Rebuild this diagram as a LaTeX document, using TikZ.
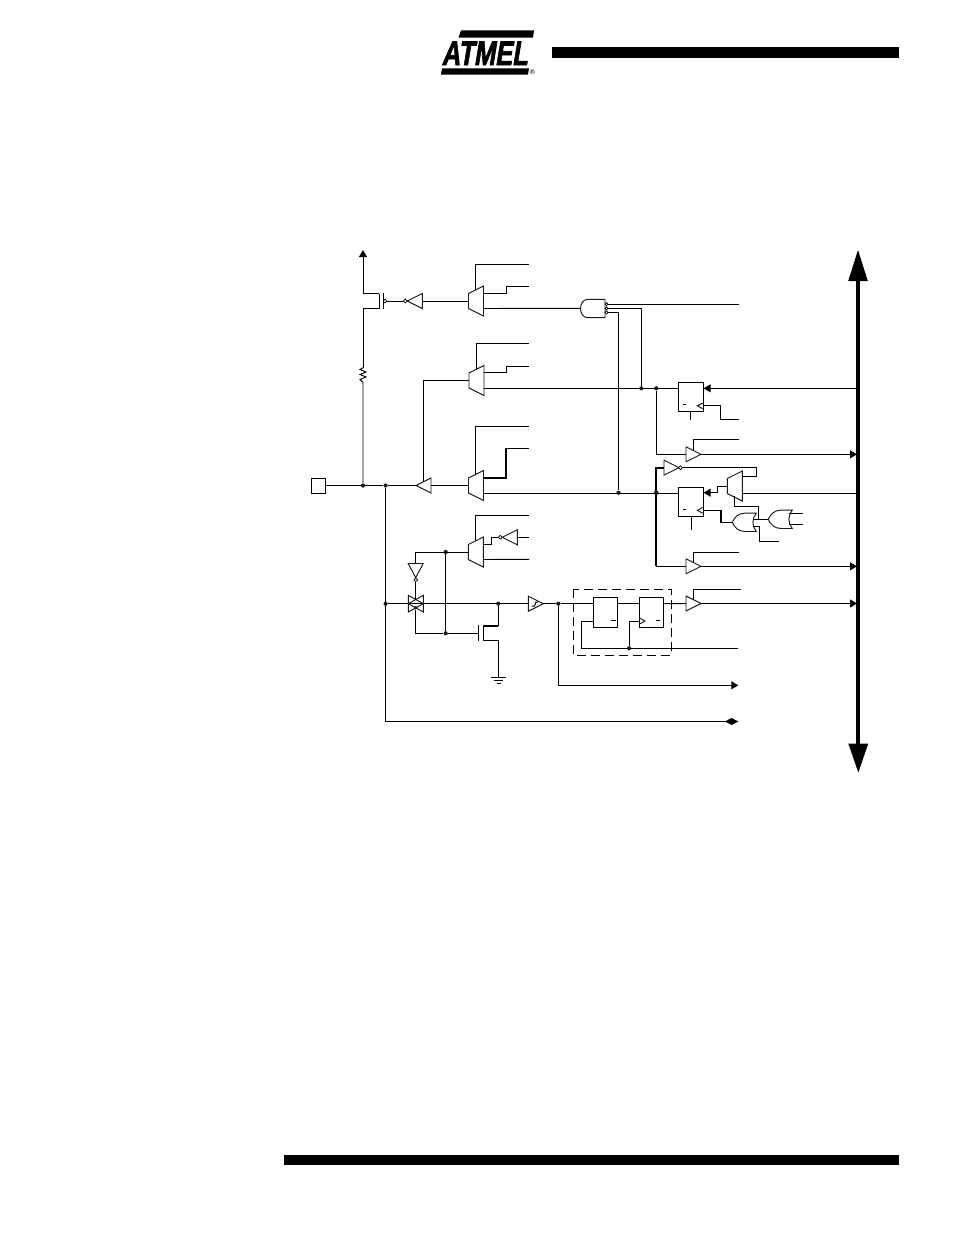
\documentclass[tikz,border=0pt]{standalone}
\usepackage{fontspec}
\setmainfont{Liberation Sans}
\newfontfamily\logofont[FakeBold=2.2,FakeSlant=0.22]{Liberation Sans Bold}
\usetikzlibrary{arrows.meta,calc}
\tikzset{
  wire/.style={line width=0.95pt,line join=miter},
  thickwire/.style={line width=1.6pt},
  gate/.style={line width=0.95pt,draw=black!90,fill=white,line join=miter},
  dot/.style={circle,fill=black!90,inner sep=0pt,minimum size=4.2pt},
  bub/.style={circle,draw=black,fill=white,line width=0.7pt,inner sep=0pt,minimum size=3.8pt},
  box/.style={draw=black,fill=white,line width=0.95pt,inner sep=0pt,anchor=north west},
  arr/.style={-{Triangle[length=7pt,width=8pt]},line width=0.95pt},
  bar/.style={fill=black,draw=none}
}
% mux: name, left x, mid y, right side wider
\newcommand{\muxshape}[3]{%
  \draw[gate] (#2,#3-7.5) -- (#2+15,#3-15) -- (#2+15,#3+15) -- (#2,#3+7.5) -- cycle;
  \coordinate (#1-l) at (#2,#3);
  \coordinate (#1-a) at (#2+7,#3-11);
  \coordinate (#1-b) at (#2+15,#3-7.7);
  \coordinate (#1-c) at (#2+15,#3+7.5);
}
% triangle pointing right: name, base x, y
\newcommand{\trir}[3]{%
  \draw[gate] (#2,#3-7.5) -- (#2+15,#3) -- (#2,#3+7.5) -- cycle;
  \coordinate (#1-in) at (#2,#3);
  \coordinate (#1-out) at (#2+15,#3);
  \coordinate (#1-en) at (#2+7.3,#3-3.7);
}
% triangle pointing left: name, tip x, y
\newcommand{\tril}[3]{%
  \draw[gate] (#2,#3) -- (#2+15,#3-7.5) -- (#2+15,#3+7.5) -- cycle;
  \coordinate (#1-out) at (#2,#3);
  \coordinate (#1-in) at (#2+15,#3);
  \coordinate (#1-en) at (#2+7.5,#3-3.7);
}
% OR gate pointing left: name, tip x, y
\newcommand{\orl}[3]{%
  \draw[gate] (#2+24,#3-9.2) -- (#2+13,#3-9.2) .. controls (#2+6,#3-9.2) and (#2+2,#3-5) .. (#2,#3)
     .. controls (#2+2,#3+5) and (#2+6,#3+9.2) .. (#2+13,#3+9.2) -- (#2+24,#3+9.2)
     .. controls (#2+19.5,#3+4) and (#2+19.5,#3-4) .. cycle;
  \coordinate (#1-tip) at (#2,#3);
}
\begin{document}
\begin{tikzpicture}[x=1pt,y=-1pt,font=\small]
\useasboundingbox (0,0) rectangle (954,1235);
\fill[white] (0,0) rectangle (954,1235);

% page furniture
\fill[bar] (552,47) rectangle (899,58);
\fill[bar] (284,1155) rectangle (899,1165);

% logo
\fill[bar] (461,30.3) -- (534,30.3) -- (533,37.7) -- (458.5,37.7) -- cycle;
\fill[bar] (442,68.3) -- (529,68.3) -- (528,74.5) -- (441,74.5) -- cycle;
\node[inner sep=0pt,anchor=base west,xscale=0.75,font=\fontsize{34}{34}\selectfont\logofont] (logo) at (441.5,65) {ATMEL};
\node[inner sep=0pt,font=\fontsize{7}{7}\selectfont] (reg) at (532.5,72) {®};

% ---- pins and fixed points
\node[box,minimum width=14.6pt,minimum height=15pt] (pad) at (310.7,478.2) {};
\coordinate (vcc) at (363,250);
\node[dot] (j1) at (363,485.5) {};
\node[dot] (j2) at (385.6,485.5) {};
\node[dot] (j3) at (385.6,603.7) {};
\node[dot] (j4) at (445.7,552) {};
\node[dot] (j5) at (445.7,633.3) {};
\node[dot] (j6) at (498.3,603.7) {};
\node[dot] (j7) at (558.3,603.7) {};
\node[dot] (j8) at (641.3,388.3) {};
\node[dot] (j9) at (656.3,388.3) {};
\node[dot] (j10) at (618.5,492.7) {};
\node[dot] (j11) at (656.3,492.7) {};
\node[dot] (j12) at (629,648.3) {};

% bus
\coordinate (bust) at (858,250);
\coordinate (busb) at (858,772.5);
\fill[bar] (856.2,270) rectangle (860,755);
\fill[bar] (858,250) -- (867.8,281) -- (848.2,281) -- cycle;
\fill[bar] (858.3,772.5) -- (848.3,743.5) -- (868.3,743.5) -- cycle;
\coordinate (busx) at (857,0);

% ---- output enable section
\coordinate (pm-s) at (379,293.5);
\coordinate (pm-d) at (379,308.5);
\draw[wire] (pm-s) -- (pm-d);
\draw[arr] (pm-s) -- (363,293.5) -- (vcc);
\draw[wire] (pm-d) -- (363,308.5) -- (363,367.7);
\draw[wire] (383,293) -- (383,308.5);
\draw[wire] (363,367.7) -- (360,369.5) -- (366,372) -- (360,374.5) -- (366,377) -- (360,379.5) -- (363,382.3) -- (j1);
\draw[wire] (pad.east |- j1) -- (j1) -- (j2) -- (416,485.5);

\tril{i1}{407.3}{301}
\node[bub] (b1) at (405.3,301) {};
\node[bub] (b2) at (385,301) {};
\draw[wire] (b2) -- (b1);
\muxshape{m1}{468.5}{301}
\draw[wire] (i1-in) -- (m1-l);
\draw[wire] (m1-a) |- (529,264.3);
\draw[wire] (m1-b) -- (506,293.3) |- (529,286.7);
\draw[wire] (m1-c) -- (581,308.3);

\muxshape{m2}{469}{380.5}
\draw[wire] (m2-a) |- (529,343.3);
\draw[wire] (m2-b) -- (506.7,372.8) |- (529,366.7);
\draw[wire] (m2-c) -- (678.3,388);

\tril{bf}{416}{485.5}
\muxshape{m3}{468.5}{485.5}
\draw[wire] (bf-in) -- (m3-l);
\draw[wire] (bf-en) |- (m2-l);
\draw[wire] (m3-a) |- (529,426.3);
\draw[thickwire] (m3-b) -- (506,477.8) |- (529,448.3);
\draw[wire] (m3-c) -- (678.3,493);

% AND gate
\draw[gate] (605,299.3) -- (588,299.3) .. controls (578,299.3) and (578,317.7) .. (588,317.7) -- (605,317.7) -- cycle;
\node[bub,minimum size=3pt] (a1) at (606.5,304.2) {};
\node[bub,minimum size=3pt] (a2) at (606.5,308.3) {};
\node[bub,minimum size=3pt] (a3) at (606.5,312.4) {};
\draw[wire] (a1) -- (739,304.2);
\draw[wire] (a2) -| (j8);
\draw[wire] (a3) -| (j10);

% FF 1
\node[box,minimum width=24.4pt,minimum height=29pt] (ff1) at (678.3,382.3) {};
\draw[gate,fill=none] (702.7,403) -- (697.3,405.7) -- (702.7,408.7);
\draw[wire] (702.7,405.7) -- (720.3,405.7) -- (720.3,419.3) -- (739.3,419.3);
\draw[wire] (682.7,404.3) -- (686,404.3);
\draw[wire] (690.3,411.3) -- (690.3,420);
\draw[arr] (busx |- j8) -- (ff1.north east |- j8);

% output buffer 1
\trir{t1}{686}{454.3}
\draw[wire] (j9) |- (t1-in);
\draw[wire] (t1-en) |- (739.3,439.3);
\draw[arr] (t1-out) -- (busx |- t1-out);

% inverter + FF 2
\trir{i2}{664}{467.7}
\node[bub] (b3) at (680.4,467.7) {};
\draw[thickwire] (655.9,566.3) -- (655.9,467.7) -- (i2-in);
\muxshape{m5}{727.3}{486}
\draw[wire] (b3) -- (756.7,467.7) |- (742.3,476.3);
\node[box,minimum width=24.4pt,minimum height=29pt] (ff2) at (678.3,487.3) {};
\node[dot] at (j11) {};
\draw[gate,fill=none] (702.7,507.4) -- (697.3,510.3) -- (702.7,513.2);
\draw[wire] (702.7,510.3) -- (720.7,510.3);
\draw[thickwire] (720.7,510.3) -- (720.7,522.3) -- (732.3,522.3);
\draw[wire] (682.7,509.3) -- (686,509.3);
\draw[wire] (691,516.3) -- (691,530);
\draw[arr] (m5-l) -- (717.3,486) -- (717.3,492.7) -- (ff2.north east |- j11);
\draw[wire] (742.3,493.2) -- (857,493.2);

\orl{o1}{732.3}{522.3}
\orl{o2}{768.3}{519.3}
\draw[wire] (734.7,496) -- (734.7,506.7) -- (758.7,506.7) -- (758.7,519.3);
\draw[wire] (752.8,519.3) -- (o2-tip);
\draw[wire] (753,526) -- (759.3,526) |- (778.7,541.7);
\draw[wire] (788.7,513.3) -- (802.7,513.3);
\draw[wire] (788.7,524) -- (802.7,524);

% output buffer 2
\trir{t2}{686}{566.3}
\draw[wire] (655.9,566.3) -- (t2-in);
\draw[wire] (t2-en) |- (739.3,552.3);
\draw[arr] (t2-out) -- (busx |- t2-out);

% ---- sleep/pin-change section
\muxshape{m4}{468.3}{552}
\draw[wire] (m4-a) |- (529,515.3);
\tril{i3}{502.3}{537.3}
\node[bub] (b4) at (500.3,537.3) {};
\draw[wire] (m4-b) -- (491.3,544.3) |- (b4);
\draw[wire] (i3-in) -- (529,537.3);
\draw[wire] (m4-c) -- (529,559.3);
\draw[wire] (m4-l) -- (415.7,552) -- (415.7,563.5);
\draw[wire] (j4) -- (j5);

% inverter pointing down
\draw[gate] (408.2,563.5) -- (423.2,563.5) -- (415.7,577.7) -- cycle;
\node[bub] (b5) at (415.7,579.7) {};
\draw[wire] (j2) -- (385.6,721.5);

% transmission gate
\draw[wire] (j3) -- (528.3,603.7);
\draw[gate,fill=none] (408.3,595.3) -- (423.3,603.7) -- (408.3,612) -- cycle;
\draw[gate,fill=none] (423.3,595.3) -- (408.3,603.7) -- (423.3,612) -- cycle;
\draw[wire] (b5) -- (415.7,599.5);
\node[dot,minimum size=3.6pt] (tgb) at (415.7,607.7) {};
\draw[wire] (tgb) -- (415.7,633.3) -- (j5) -- (478.7,633.3);

% NMOS
\draw[wire] (478.7,625.3) -- (478.7,640.7);
\draw[wire] (483.3,626) -- (483.3,640.7);
\draw[thickwire] (483.3,626) -- (498.3,626);
\draw[wire] (498.3,626) -- (j6);
\coordinate (gnd) at (498.3,677.3);
\draw[wire] (483.3,640.7) -- (498.3,640.7) -- (gnd);
\draw[wire] (490.7,677.3) -- (506,677.3);
\draw[wire] (494,680.7) -- (502.7,680.7);
\draw[wire] (496.7,683.7) -- (500.7,683.7);

% Schmitt trigger
\trir{st}{528.3}{603.7}
\draw[line width=1pt] (531.5,606) -- (534.5,606) -- (536,602) -- (538,602);
\draw[wire] (st-out) -- (j7) -- (593.3,603.7);
\draw[arr] (j7) |- (738.3,685.3);

% dashed box
\draw[wire,dash pattern=on 9pt off 5pt] (573.3,589.3) rectangle (671.3,655.3);

% latches
\node[box,minimum width=24pt,minimum height=30pt] (la) at (593.3,597.3) {};
\node[box,minimum width=24pt,minimum height=30pt] (lb) at (639.3,597.3) {};
\draw[wire] (611,620.3) -- (616,620.3);
\draw[wire] (655.7,620) -- (660,620);
\draw[gate,fill=none] (640,618.2) -- (645,621) -- (640,623.8);
\draw[wire] (la.east |- j7) -- (lb.west |- j7);
\draw[wire] (593.3,621) -- (581.3,621) |- (j12) -- (737.7,648.3);
\draw[wire] (j12) |- (639.3,621);

% output buffer 3
\trir{t3}{686}{603.5}
\draw[wire] (lb.east |- j7) -- (t3-in);
\draw[wire] (t3-en) |- (740.7,589.3);
\draw[arr] (t3-out) -- (busx |- t3-out);

% bidirectional lower wire
\coordinate (dl) at (725.5,721.5);
\draw[wire] (385.6,721.5) -- (dl);
\fill[bar] (725,721.5) -- (731.5,718) -- (738.3,721.5) -- (731.5,725) -- cycle;
\end{tikzpicture}
\end{document}
